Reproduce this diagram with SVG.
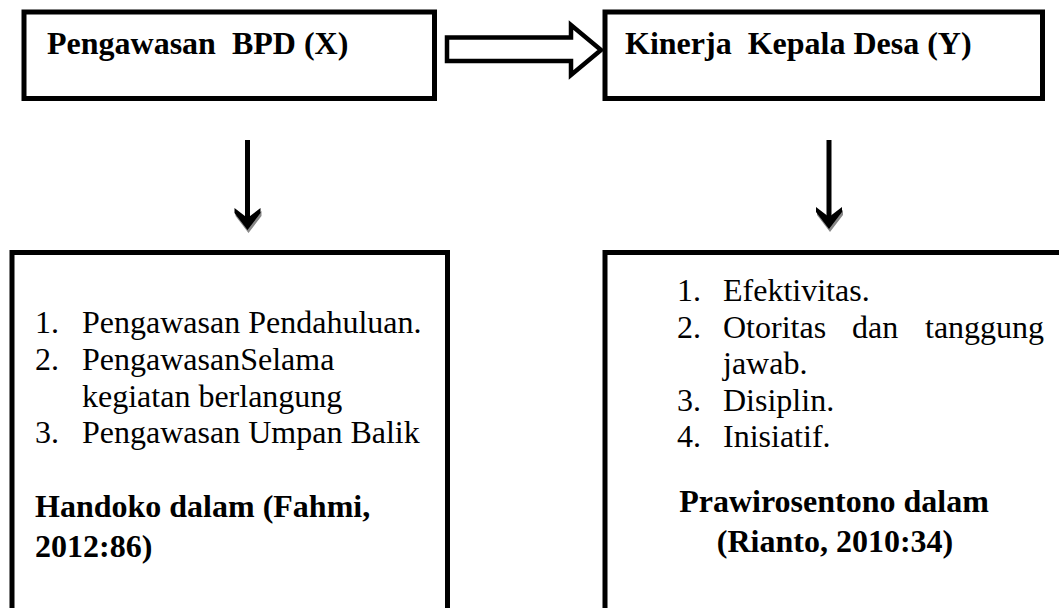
<svg xmlns="http://www.w3.org/2000/svg" width="1059" height="608" viewBox="0 0 1059 608">
<style>
.box{fill:#fff;stroke:#000;stroke-width:5}
text{font-family:'Liberation Serif',Tinos,'Times New Roman',Times,'DejaVu Serif',serif;font-size:32px;fill:#000}
.b{font-weight:bold}
.shaft{stroke:#000;stroke-width:5;fill:none}
</style>
<defs>
<g id="dhead">
<polygon points="-13,-22 0,-12 13,-22 13,-17 0,0 -13,-17" fill="#888" transform="translate(1,3)"/>
<polygon points="-13,-22 0,-12 13,-22 13,-17 0,0 -13,-17" fill="#000"/>
</g>
</defs>
<rect width="1059" height="608" fill="#fff"/>
<g id="node-x">
<rect class="box" x="24" y="12" width="410.5" height="86.5"/>
<text class="b" x="47" y="54" font-family="Liberation Serif, serif">Pengawasan&#160; BPD (X)</text>
</g>
<g id="node-y">
<rect class="box" x="605" y="12" width="437.5" height="86.5"/>
<text class="b" x="625" y="54" font-family="Liberation Serif, serif">Kinerja&#160; Kepala Desa (Y)</text>
</g>
<g id="node-x-indicators">
<rect class="box" x="12" y="252.5" width="435.5" height="400"/>
<text x="35" y="333">1.</text>
<text x="82" y="333">Pengawasan Pendahuluan.</text>
<text x="35" y="370">2.</text>
<text x="82" y="370">PengawasanSelama</text>
<text x="82" y="406.5">kegiatan berlangung</text>
<text x="35" y="443">3.</text>
<text x="82" y="443">Pengawasan Umpan Balik</text>
<text class="b" x="35" y="517">Handoko dalam (Fahmi,</text>
<text class="b" x="35" y="557">2012:86)</text>
</g>
<g id="node-y-indicators">
<rect class="box" x="605" y="252.5" width="500" height="400"/>
<text x="677" y="301">1.</text>
<text x="723" y="301">Efektivitas.</text>
<text x="677" y="337.5">2.</text>
<text x="723" y="337.5">Otoritas</text>
<text x="852" y="337.5">dan</text>
<text x="925" y="337.5">tanggung</text>
<text x="723" y="374">jawab.</text>
<text x="677" y="410.5">3.</text>
<text x="723" y="410.5">Disiplin.</text>
<text x="677" y="447">4.</text>
<text x="723" y="447">Inisiatif.</text>
<text class="b" x="834" y="512" text-anchor="middle">Prawirosentono dalam</text>
<text class="b" x="835" y="552" text-anchor="middle">(Rianto, 2010:34)</text>
</g>
<g id="connectors">
<polygon points="447,37.5 571,37.5 571,25 601,50 571,75 571,61 447,61" fill="#fff" stroke="#000" stroke-width="4.5"/>
<line class="shaft" x1="247.5" y1="140" x2="247.5" y2="220"/>
<use href="#dhead" x="247.5" y="230"/>
<line class="shaft" x1="829" y1="140" x2="829" y2="219"/>
<use href="#dhead" x="829" y="229"/>
</g>
</svg>
